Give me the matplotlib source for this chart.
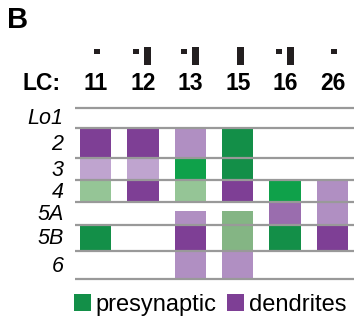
import matplotlib.pyplot as plt
from matplotlib.patches import Rectangle, Patch

# columns (LC types) and cortical layers
columns = ["11", "12", "13", "15", "16", "26"]
has_square = [1, 1, 1, 0, 1, 1]
has_bar = [0, 1, 1, 1, 1, 0]
layers = ["Lo1", "2", "3", "4", "5A", "5B", "6"]
layer_edges = [0, 20, 50, 72, 94, 117, 143, 171]

shades = {
    "P3": "#7e3f95",
    "P2": "#9a6dae",
    "P1": "#b08fc2",
    "P0": "#bfa4cf",
    "G3": "#138f48",
    "G2": "#0fa14a",
    "G1": "#84b584",
    "G0": "#95c596",
}

# (column, layer, shade, filled fraction of the layer from bottom)
cells = [
    (0, 1, "P3", 1), (0, 2, "P0", 1), (0, 3, "G0", 1), (0, 5, "G3", 1),
    (1, 1, "P3", 1), (1, 2, "P0", 1), (1, 3, "P3", 1),
    (2, 1, "P1", 1), (2, 2, "G2", 1), (2, 3, "G0", 1), (2, 4, "P1", 0.6),
    (2, 5, "P3", 1), (2, 6, "P1", 1),
    (3, 1, "G3", 1), (3, 2, "G3", 1), (3, 3, "P3", 1), (3, 4, "G1", 0.6),
    (3, 5, "G1", 1), (3, 6, "P1", 1),
    (4, 3, "G2", 1), (4, 4, "P2", 1), (4, 5, "G3", 1),
    (5, 3, "P1", 1), (5, 4, "P1", 1), (5, 5, "P3", 1),
]

fig = plt.figure(figsize=(3.54, 3.24), dpi=100)
ax = fig.add_axes([0, 0, 1, 1])
step = 47.4
ax.set_xlim(-95.5 / step, (354 - 95.5) / step)
ax.set_ylim(216, -108)
ax.axis("off")

w = 0.66
for c, l, s, f in cells:
    top = layer_edges[l]
    bot = layer_edges[l + 1]
    y0 = bot - (bot - top) * f
    ax.add_patch(Rectangle((c - w / 2, y0), w, bot - y0, color=shades[s], lw=0, zorder=1))

for e in layer_edges:
    ax.plot([-20.5 / step, 352 / step], [e, e], color="#999999", lw=1.6, zorder=2,
            solid_capstyle="butt")

for i, name in enumerate(layers):
    mid = (layer_edges[i] + layer_edges[i + 1]) / 2
    ax.text(-32 / step, mid + 1, name, ha="right", va="center", style="italic",
            fontsize=15.5, family="Liberation Sans")

for i, lab in enumerate(columns):
    ax.text(i, -24, lab, ha="center", va="center", fontweight="bold",
            fontsize=16.5, family="Liberation Sans")
    both = has_square[i] and has_bar[i]
    if has_square[i]:
        sx = i - 6.5 / step if both else i + 1.5 / step
        ax.add_patch(Rectangle((sx - 3 / step, -59), 6 / step, 5, color="#231f20", lw=0))
    if has_bar[i]:
        bx = i + 5 / step if both else i + 3 / step
        ax.add_patch(Rectangle((bx - 3.5 / step, -61), 7 / step, 18, color="#231f20", lw=0))

ax.text(-73 / step, -24, "LC:", ha="left", va="center", fontweight="bold",
        fontsize=16.5, family="Liberation Sans")
fig.text(7 / 354, 1 - 20 / 324, "B", ha="left", va="center", fontweight="bold",
         fontsize=21, family="Liberation Sans")

handles = [Patch(color=shades["G3"], lw=0), Patch(color=shades["P3"], lw=0)]
fig.legend(handles, ["presynaptic", "dendrites"], loc="center left",
           bbox_to_anchor=(74 / 354, 1 - 305 / 324), ncol=2, frameon=False,
           prop={"family": "Liberation Sans", "size": 17}, handlelength=0.72,
           handleheight=0.72, handletextpad=0.2, columnspacing=0.45, borderpad=0,
           borderaxespad=0)

fig.savefig("out.png", dpi=100)
